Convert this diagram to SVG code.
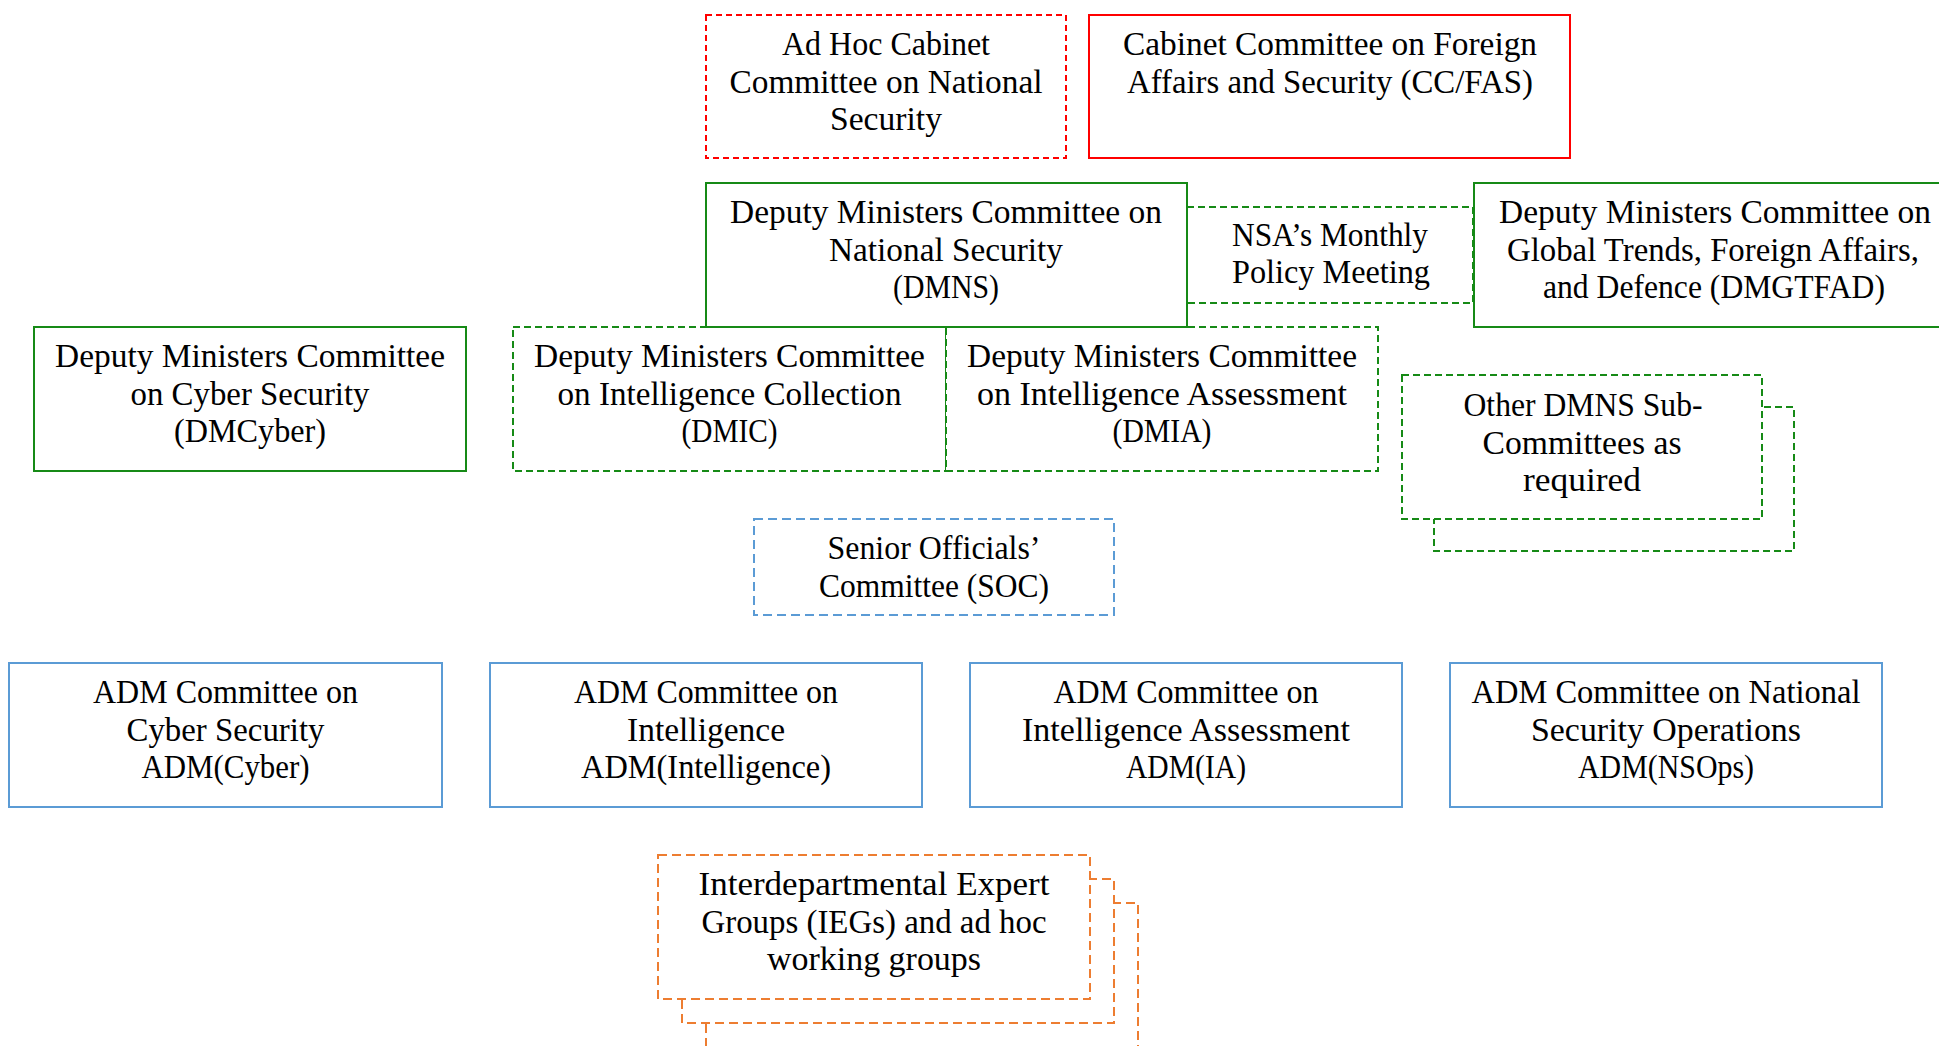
<svg xmlns="http://www.w3.org/2000/svg" width="1939" height="1046" viewBox="0 0 1939 1046">
<style>
text{font-family:"Liberation Serif","Times New Roman",serif;font-size:33px;fill:#000;text-anchor:middle}
rect{fill:#fff;stroke-width:2}
.red{stroke:#ff0000}
.grn{stroke:#168a16}
.blu{stroke:#5b9bd5}
.org{stroke:#ed7d31}
.dR{stroke-dasharray:6 4}
.dG{stroke-dasharray:7 4}
.dB{stroke-dasharray:9 5}
.dO{stroke-dasharray:9 5}
</style>
<rect x="0" y="0" width="1939" height="1046" style="fill:#fff;stroke:none"/>
<g id="connectors"></g>

<g id="adhoc">
<rect class="red dR" x="706" y="15" width="360" height="143"/>
<text x="886" y="55" textLength="208" lengthAdjust="spacingAndGlyphs">Ad Hoc Cabinet</text>
<text x="886" y="92.5" textLength="313" lengthAdjust="spacingAndGlyphs">Committee on National</text>
<text x="886" y="130" textLength="112" lengthAdjust="spacingAndGlyphs">Security</text>
</g>

<g id="ccfas">
<rect class="red" x="1089" y="15" width="481" height="143"/>
<text x="1330" y="55" textLength="414" lengthAdjust="spacingAndGlyphs">Cabinet Committee on Foreign</text>
<text x="1330" y="92.5" textLength="406" lengthAdjust="spacingAndGlyphs">Affairs and Security (CC/FAS)</text>
</g>

<g id="nsa">
<rect class="grn dG" x="1187" y="207" width="286" height="96"/>
<text x="1330" y="246" textLength="196" lengthAdjust="spacingAndGlyphs">NSA’s Monthly</text>
<text x="1331" y="283" textLength="198" lengthAdjust="spacingAndGlyphs">Policy Meeting</text>
</g>

<g id="dmic">
<rect class="grn dG" x="513" y="327" width="433" height="144"/>
<text x="729.5" y="367" textLength="391" lengthAdjust="spacingAndGlyphs">Deputy Ministers Committee</text>
<text x="729.5" y="404.5" textLength="344" lengthAdjust="spacingAndGlyphs">on Intelligence Collection</text>
<text x="729.5" y="442" textLength="96" lengthAdjust="spacingAndGlyphs">(DMIC)</text>
</g>

<g id="dmia">
<rect class="grn dG" x="946" y="327" width="432" height="144"/>
<text x="1162" y="367" textLength="390" lengthAdjust="spacingAndGlyphs">Deputy Ministers Committee</text>
<text x="1162" y="404.5" textLength="370" lengthAdjust="spacingAndGlyphs">on Intelligence Assessment</text>
<text x="1162" y="442" textLength="99" lengthAdjust="spacingAndGlyphs">(DMIA)</text>
</g>

<g id="dmns">
<rect class="grn" x="706" y="183" width="481" height="144" style="fill:none"/>
<text x="946" y="223" textLength="432" lengthAdjust="spacingAndGlyphs">Deputy Ministers Committee on</text>
<text x="946" y="260.5" textLength="234" lengthAdjust="spacingAndGlyphs">National Security</text>
<text x="946" y="298" textLength="106" lengthAdjust="spacingAndGlyphs">(DMNS)</text>
</g>

<g id="dmgtfad">
<rect class="grn" x="1474" y="183" width="480" height="144" style="fill:none"/>
<text x="1715" y="223" textLength="432" lengthAdjust="spacingAndGlyphs">Deputy Ministers Committee on</text>
<text x="1713" y="260.5" textLength="412" lengthAdjust="spacingAndGlyphs">Global Trends, Foreign Affairs,</text>
<text x="1714" y="298" textLength="342" lengthAdjust="spacingAndGlyphs">and Defence (DMGTFAD)</text>
</g>

<g id="dmcyber">
<rect class="grn" x="34" y="327" width="432" height="144"/>
<text x="250" y="367" textLength="390" lengthAdjust="spacingAndGlyphs">Deputy Ministers Committee</text>
<text x="250" y="404.5" textLength="239" lengthAdjust="spacingAndGlyphs">on Cyber Security</text>
<text x="250" y="442" textLength="152" lengthAdjust="spacingAndGlyphs">(DMCyber)</text>
</g>

<g id="other-dmns">
<rect class="grn dG" x="1434" y="407" width="360" height="144"/>
<rect class="grn dG" x="1402" y="375" width="360" height="144"/>
<text x="1583" y="416" textLength="239" lengthAdjust="spacingAndGlyphs">Other DMNS Sub-</text>
<text x="1582" y="453.5" textLength="199" lengthAdjust="spacingAndGlyphs">Committees as</text>
<text x="1582" y="491" textLength="118" lengthAdjust="spacingAndGlyphs">required</text>
</g>

<g id="soc">
<rect class="blu dB" x="754" y="519" width="360" height="96"/>
<text x="934" y="559" textLength="213" lengthAdjust="spacingAndGlyphs">Senior Officials’</text>
<text x="934" y="597" textLength="230" lengthAdjust="spacingAndGlyphs">Committee (SOC)</text>
</g>

<g id="adm-cyber">
<rect class="blu" x="9" y="663" width="433" height="144"/>
<text x="225.5" y="703" textLength="265" lengthAdjust="spacingAndGlyphs">ADM Committee on</text>
<text x="225.5" y="740.5" textLength="198" lengthAdjust="spacingAndGlyphs">Cyber Security</text>
<text x="225.5" y="778" textLength="168" lengthAdjust="spacingAndGlyphs">ADM(Cyber)</text>
</g>

<g id="adm-intelligence">
<rect class="blu" x="490" y="663" width="432" height="144"/>
<text x="706" y="703" textLength="264" lengthAdjust="spacingAndGlyphs">ADM Committee on</text>
<text x="706" y="740.5" textLength="158" lengthAdjust="spacingAndGlyphs">Intelligence</text>
<text x="706" y="778" textLength="250" lengthAdjust="spacingAndGlyphs">ADM(Intelligence)</text>
</g>

<g id="adm-ia">
<rect class="blu" x="970" y="663" width="432" height="144"/>
<text x="1186" y="703" textLength="265" lengthAdjust="spacingAndGlyphs">ADM Committee on</text>
<text x="1186" y="740.5" textLength="328" lengthAdjust="spacingAndGlyphs">Intelligence Assessment</text>
<text x="1186" y="778" textLength="120" lengthAdjust="spacingAndGlyphs">ADM(IA)</text>
</g>

<g id="adm-nsops">
<rect class="blu" x="1450" y="663" width="432" height="144"/>
<text x="1666" y="703" textLength="389" lengthAdjust="spacingAndGlyphs">ADM Committee on National</text>
<text x="1666" y="740.5" textLength="270" lengthAdjust="spacingAndGlyphs">Security Operations</text>
<text x="1666" y="778" textLength="176" lengthAdjust="spacingAndGlyphs">ADM(NSOps)</text>
</g>

<g id="iegs">
<rect class="org dO" x="706" y="903" width="432" height="200"/>
<rect class="org dO" x="682" y="879" width="432" height="144"/>
<rect class="org dO" x="658" y="855" width="432" height="144"/>
<text x="874" y="895" textLength="351" lengthAdjust="spacingAndGlyphs">Interdepartmental Expert</text>
<text x="874" y="932.5" textLength="345" lengthAdjust="spacingAndGlyphs">Groups (IEGs) and ad hoc</text>
<text x="874" y="970" textLength="214" lengthAdjust="spacingAndGlyphs">working groups</text>
</g>
</svg>
